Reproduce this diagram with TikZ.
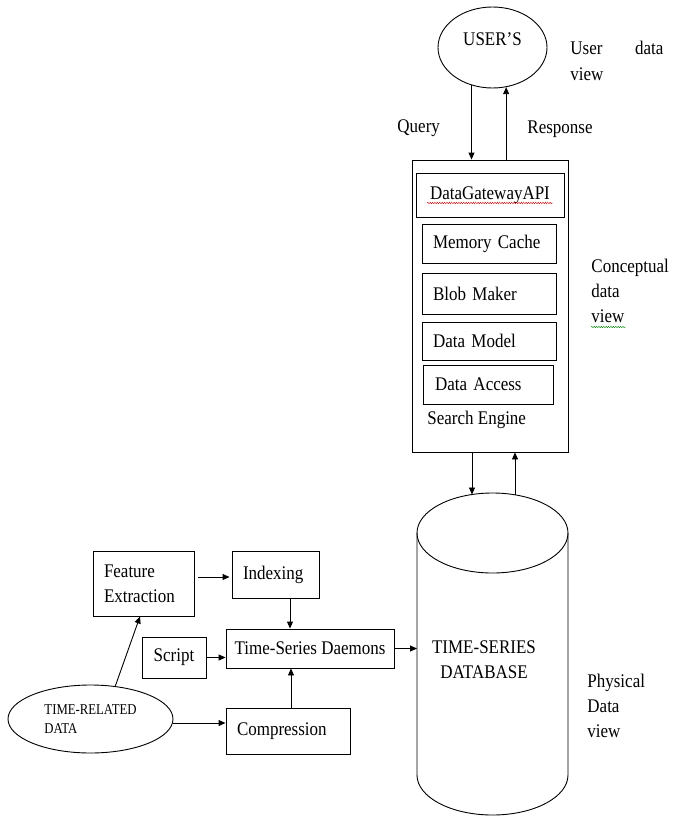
\documentclass[tikz,border=0pt]{standalone}
\usepackage{fontspec}
\setmainfont{Liberation Serif}[FakeStretch=0.88]
\usetikzlibrary{arrows.meta,shapes.geometric,decorations.pathmorphing}
\begin{document}
\begin{tikzpicture}[x=1pt,y=-1pt,
  font=\fontsize{19.3}{25}\selectfont,
  line width=0.9pt,
  >={Triangle[length=7pt,width=6pt]},
  box/.style={draw, rectangle, inner xsep=11pt, inner ysep=0pt, align=left},
  cbox/.style={draw, rectangle, inner sep=0pt, align=center},
  lbl/.style={inner sep=0pt, anchor=base west, align=left},
  arr/.style={->},
  squig/.style={line width=0.4pt, decorate, decoration={snake, amplitude=0.7pt, segment length=2.4pt}}]
\useasboundingbox (0,0) rectangle (673,816);

% user ellipse
\node[draw, ellipse, minimum width=109pt, minimum height=81pt, inner sep=0pt,
  label={[yshift=8pt, inner sep=0pt]center:USER'S}] (user) at (492.5,47.5) {};
\node[lbl, text width=93pt] (udv) at (570,55) {User\hspace{0pt plus 1filll}data\\view};
\node[lbl] (qlbl) at (397,132) {Query};
\node[lbl] (rlbl) at (527,133) {Response};

% API stack
\node[draw, rectangle, minimum width=156pt, minimum height=292pt, inner sep=0pt] (api) at (490,306) {};
\node[cbox, minimum width=148pt, minimum height=44pt] (dga) at (490,195) {DataGatewayAPI};
\node[box, text width=112pt, minimum height=39pt] (mc) at (489,243.5) {Memory Cache};
\node[box, text width=112pt, minimum height=41pt] (bm) at (489,293.5) {Blob Maker};
\node[box, text width=112pt, minimum height=38pt] (dm) at (489,341) {Data Model};
\node[box, text width=106pt, inner xsep=12pt, minimum height=39pt] (da) at (488,384.5) {Data Access};
\node[lbl] (se) at (427,424) {Search Engine};
\node[lbl] (cdv) at (591,322) {Conceptual\\data\\view};
\draw[squig, red!75!black] ([xshift=-63pt,yshift=-8pt]dga.center) -- ([xshift=63pt,yshift=-8pt]dga.center);
\draw[squig, green!50!black] (591,327) -- (626,327);

% database cylinder
\draw (492.5,533) ellipse [x radius=75.5, y radius=40];
\draw (417,533) -- (417,775) arc[start angle=180, end angle=0, x radius=75.5, y radius=40] -- (568,533);
\node[inner sep=0pt, anchor=base, align=center] (dbt) at (484,678) {TIME-SERIES\\DATABASE};
\node[lbl] (pdv) at (587,737) {Physical\\Data\\view};
\coordinate (dbq) at (472,494.5);
\coordinate (dbr) at (515,495);
\coordinate (dbw) at (417,649);

% lower pipeline
\node[box, text width=79pt, minimum height=65pt] (fe) at (143.5,583.5) {Feature\\Extraction};
\node[box, text width=65pt, minimum height=47pt] (idx) at (275.5,574.5) {Indexing};
\node[cbox, minimum width=168pt, minimum height=39pt] (tsd) at (310,648.5) {Time-Series Daemons};
\node[cbox, minimum width=64pt, minimum height=41pt] (scr) at (174,657.5) {Script};
\node[box, text width=102pt, minimum height=46pt] (comp) at (288,731) {Compression};
\node[draw, ellipse, minimum width=165pt, minimum height=68pt, inner sep=0pt, align=left,
  font=\fontsize{15}{19}\selectfont\addfontfeature{FakeStretch=0.85}] (trd) at (90.5,719) {TIME-RELATED\\DATA};

% connectors
\draw[arr] (user.241) -- (user.241 |- api.north);
\draw[arr] (user.-71 |- api.north) -- (user.-71);
\draw[arr] (api.south -| dbq) -- (dbq);
\draw[arr] (dbr) -- (dbr |- api.south);
\draw[arr] ([xshift=4pt,yshift=-2.5pt]fe.east |- idx.west) -- ([xshift=-2pt,yshift=-2.5pt]idx.west);
\draw[arr] ([xshift=14.5pt]idx.south) -- ([xshift=14.5pt]idx.south |- tsd.north);
\draw[arr] (scr.east) -- (scr.east -| tsd.west);
\draw[arr] ([xshift=3pt]comp.north) -- ([xshift=3pt]comp.north |- tsd.south);
\draw[arr] ([yshift=-4pt]trd.east) -- ([yshift=-4pt]trd.east -| comp.west);
\draw[arr] (trd.53) -- ([xshift=-3.5pt]fe.south);
\draw[arr] (tsd.east) -- (tsd.east -| dbw);
\end{tikzpicture}
\end{document}
